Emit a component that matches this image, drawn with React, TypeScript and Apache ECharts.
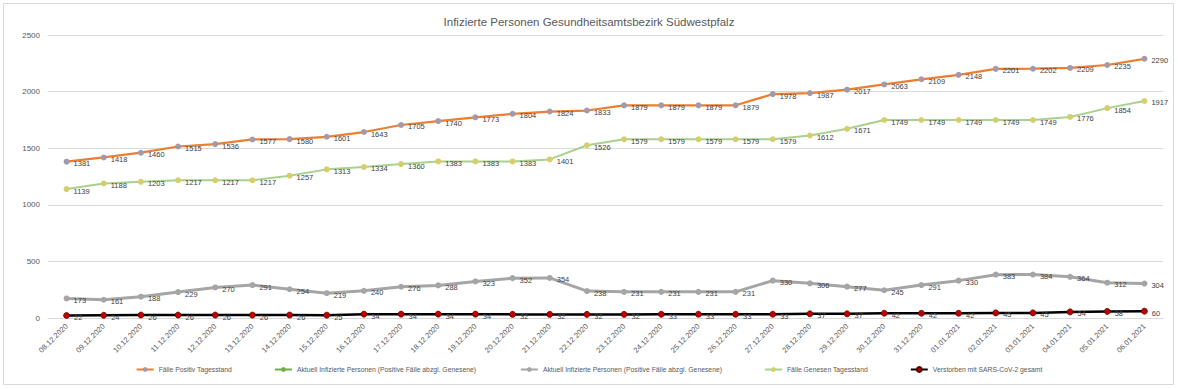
import React, { useEffect, useRef } from "react";
import * as echarts from "echarts";

const dates = [
  "08.12.2020", "09.12.2020", "10.12.2020", "11.12.2020", "12.12.2020", "13.12.2020",
  "14.12.2020", "15.12.2020", "16.12.2020", "17.12.2020", "18.12.2020", "19.12.2020",
  "20.12.2020", "21.12.2020", "22.12.2020", "23.12.2020", "24.12.2020", "25.12.2020",
  "26.12.2020", "27.12.2020", "28.12.2020", "29.12.2020", "30.12.2020", "31.12.2020",
  "01.01.2021", "02.01.2021", "03.01.2021", "04.01.2021", "05.01.2021", "06.01.2021",
];

const positiv = [
  1381, 1418, 1460, 1515, 1536, 1577, 1580, 1601, 1643, 1705, 1740, 1773, 1804, 1824, 1833,
  1879, 1879, 1879, 1879, 1978, 1987, 2017, 2063, 2109, 2148, 2201, 2202, 2209, 2235, 2290,
];

const aktuellLeer: number[] = [];

const aktuell = [
  173, 161, 188, 229, 270, 291, 254, 219, 240, 276, 288, 323, 352, 354, 238,
  231, 231, 231, 231, 330, 306, 277, 245, 291, 330, 383, 384, 364, 312, 304,
];

const genesen = [
  1139, 1188, 1203, 1217, 1217, 1217, 1257, 1313, 1334, 1360, 1383, 1383, 1383, 1401, 1526,
  1579, 1579, 1579, 1579, 1579, 1612, 1671, 1749, 1749, 1749, 1749, 1749, 1776, 1854, 1917,
];

const verstorben = [
  22, 24, 26, 26, 26, 26, 26, 25, 34, 34, 34, 34, 32, 32, 32,
  32, 33, 33, 33, 33, 37, 37, 42, 42, 42, 45, 45, 54, 58, 60,
];

const yTicks = { min: 0, max: 2500, interval: 500 };

const FONT = "'Liberation Sans', 'DejaVu Sans', sans-serif";

export default function App() {
  const ref = useRef<HTMLDivElement>(null);

  useEffect(() => {
    if (!ref.current) return;
    const chart = echarts.init(ref.current, null, { renderer: "svg" });

    const label = {
      show: true,
      position: "right" as const,
      distance: 4,
      offset: [0, 2],
      fontSize: 7.5,
      color: "#404040",
      fontFamily: FONT,
    };

    chart.setOption({
      animation: false,
      backgroundColor: "#ffffff",
      textStyle: { fontFamily: FONT },
      title: {
        text: "Infizierte Personen Gesundheitsamtsbezirk Südwestpfalz",
        left: "center",
        top: 11,
        textStyle: { fontSize: 11.5, fontWeight: "normal", color: "#595959", fontFamily: FONT },
      },
      graphic: [
        {
          type: "rect",
          shape: { x: 3.5, y: 3.5, width: 1170, height: 381 },
          style: { fill: "none", stroke: "#d9d9d9", lineWidth: 1 },
          silent: true,
        },
      ],
      legend: {
        bottom: 11,
        left: "center",
        itemGap: 42,
        itemWidth: 17,
        itemHeight: 6,
        textStyle: { fontSize: 6.8, color: "#595959", fontFamily: FONT },
        data: [
          "Fälle Positiv Tagesstand",
          "Aktuell Infizierte Personen (Positive Fälle abzgl. Genesene) ",
          "Aktuell Infizierte Personen (Positive Fälle abzgl. Genesene)",
          "Fälle Genesen Tagesstand",
          "Verstorben mit SARS-CoV-2 gesamt",
        ],
      },
      grid: { left: 48, right: 15, top: 35, bottom: 71 },
      xAxis: {
        type: "category",
        data: dates,
        boundaryGap: true,
        axisLine: { lineStyle: { color: "#d9d9d9" } },
        axisTick: { show: false },
        axisLabel: {
          interval: 0,
          rotate: 45,
          fontSize: 7.5,
          color: "#595959",
          margin: 7,
          fontFamily: FONT,
        },
      },
      yAxis: {
        type: "value",
        min: yTicks.min,
        max: yTicks.max,
        interval: yTicks.interval,
        axisLine: { show: false },
        axisTick: { show: false },
        axisLabel: {
          fontSize: 8,
          color: "#595959",
          margin: 8,
          fontFamily: FONT,
          formatter: (v: number) => String(v),
        },
        splitLine: { lineStyle: { color: "#d9d9d9", width: 1 } },
      },
      series: [
        {
          name: "Fälle Positiv Tagesstand",
          type: "line",
          data: positiv,
          symbol: "circle",
          symbolSize: 6,
          lineStyle: { color: "#ed7d31", width: 2.25 },
          itemStyle: { color: "#a29aac" },
          label,
          z: 3,
        },
        {
          name: "Aktuell Infizierte Personen (Positive Fälle abzgl. Genesene) ",
          type: "line",
          data: aktuellLeer,
          symbol: "circle",
          symbolSize: 6,
          lineStyle: { color: "#70ad47", width: 2.25 },
          itemStyle: { color: "#70ad47" },
        },
        {
          name: "Aktuell Infizierte Personen (Positive Fälle abzgl. Genesene)",
          type: "line",
          data: aktuell,
          symbol: "circle",
          symbolSize: 6,
          lineStyle: { color: "#a5a5a5", width: 3 },
          itemStyle: { color: "#a5a5a5" },
          label,
          z: 3,
        },
        {
          name: "Fälle Genesen Tagesstand",
          type: "line",
          data: genesen,
          symbol: "circle",
          symbolSize: 6,
          lineStyle: { color: "#a9d18e", width: 2 },
          itemStyle: { color: "#d6cd6b" },
          label,
          z: 3,
        },
        {
          name: "Verstorben mit SARS-CoV-2 gesamt",
          type: "line",
          data: verstorben,
          symbol: "circle",
          symbolSize: 6,
          lineStyle: { color: "#000000", width: 2.5 },
          itemStyle: { color: "#c00000", borderColor: "#5a0000", borderWidth: 0.75 },
          label,
          z: 4,
        },
      ],
    });

    return () => chart.dispose();
  }, []);

  return (
    <div
      ref={ref}
      style={{ position: "absolute", left: 0, top: 0, width: 1178, height: 389 }}
    />
  );
}
